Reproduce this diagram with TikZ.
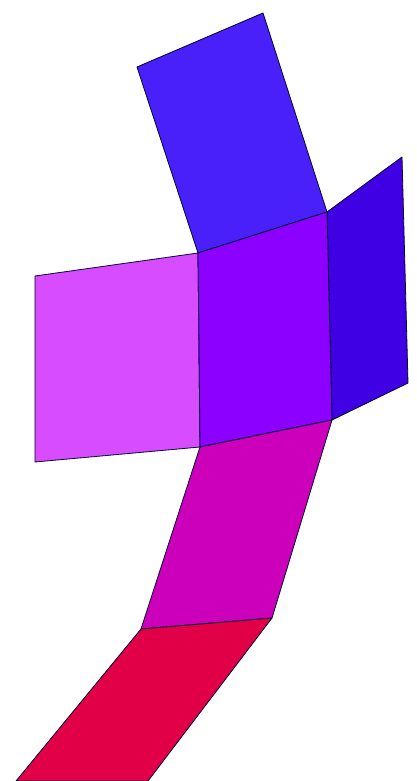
\documentclass[tikz,border=0pt]{standalone}
\definecolor{cblue}{RGB}{74,32,250}
\definecolor{cviolet}{RGB}{140,0,255}
\definecolor{cdeep}{RGB}{64,0,228}
\definecolor{clilac}{RGB}{216,76,255}
\definecolor{cmag}{RGB}{204,0,186}
\definecolor{cred}{RGB}{225,0,72}
\tikzset{face/.style={draw=black!80!blue, line width=0.8pt, line join=round}}
\begin{document}
\begin{tikzpicture}[x=1pt,y=-1pt]
\useasboundingbox (0,0) rectangle (417,781);
\coordinate (a1) at (137,67);
\coordinate (a2) at (263,13);
\coordinate (a3) at (327,212);
\coordinate (a4) at (198,253);
\coordinate (b1) at (402,157);
\coordinate (b2) at (408,383);
\coordinate (c3) at (332,420);
\coordinate (c4) at (200,447);
\coordinate (l1) at (35,276);
\coordinate (l2) at (35,462);
\coordinate (m3) at (272,618);
\coordinate (m4) at (141,629);
\coordinate (r3) at (148,781);
\coordinate (r4) at (16,781);
\fill[face, fill=cblue] (a1) -- (a2) -- (a3) -- (a4) -- cycle;
\fill[face, fill=cdeep] (a3) -- (b1) -- (b2) -- (c3) -- cycle;
\fill[face, fill=clilac] (l1) -- (a4) -- (c4) -- (l2) -- cycle;
\fill[face, fill=cviolet] (a4) -- (a3) -- (c3) -- (c4) -- cycle;
\fill[face, fill=cmag] (c4) -- (c3) -- (m3) -- (m4) -- cycle;
\fill[face, fill=cred] (m4) -- (m3) -- (r3) -- (r4) -- cycle;
\end{tikzpicture}
\end{document}
